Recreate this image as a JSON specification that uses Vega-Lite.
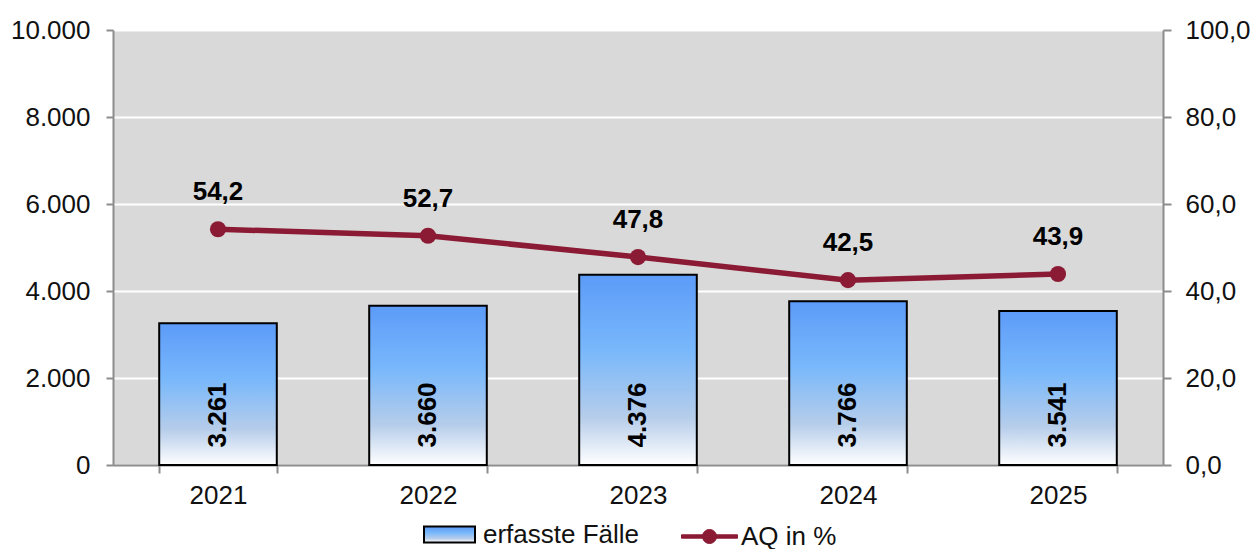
{
  "$schema": "https://vega.github.io/schema/vega-lite/v6.json",
  "autosize": {"type": "none"},
  "width": 1050,
  "height": 435,
  "padding": {"left": 113, "top": 30, "right": 92, "bottom": 84},
  "background": "white",
  "config": {
    "font": "Liberation Sans",
    "locale": {"number": {"decimal": ",", "thousands": ".", "grouping": [3], "currency": ["", " €"]}},
    "view": {"fill": "#D9D9D9", "stroke": null},
    "axis": {"labelFont": "Liberation Sans", "labelFontSize": 26, "labelColor": "#111111", "domainColor": "#8C8C8C", "domainWidth": 2, "tickColor": "#8C8C8C", "tickWidth": 2, "tickSize": 8, "title": null}
  },
  "data": {"values": [
    {"Jahr": "2021", "Faelle": 3261, "AQ": 54.2},
    {"Jahr": "2022", "Faelle": 3660, "AQ": 52.7},
    {"Jahr": "2023", "Faelle": 4376, "AQ": 47.8},
    {"Jahr": "2024", "Faelle": 3766, "AQ": 42.5},
    {"Jahr": "2025", "Faelle": 3541, "AQ": 43.9}
  ]},
  "encoding": {
    "x": {"field": "Jahr", "type": "nominal", "scale": {"paddingInner": 0.44, "paddingOuter": 0.22},
      "axis": {"labelAngle": 0, "tickBand": "extent", "labelPadding": 9, "grid": false, "tickSize": 8}}
  },
  "layer": [
    {
      "layer": [
        {
          "mark": {"type": "bar", "stroke": "#000000", "strokeWidth": 2,
            "fill": {"gradient": "linear", "x1": 0, "y1": 0, "x2": 0, "y2": 1,
              "stops": [{"offset": 0, "color": "#5C9BF8"}, {"offset": 0.4, "color": "#79B8FB"}, {"offset": 0.75, "color": "#B6CDEA"}, {"offset": 1, "color": "#FFFFFF"}]}},
          "encoding": {
            "y": {"field": "Faelle", "type": "quantitative", "scale": {"domain": [0, 10000]},
              "axis": {"orient": "left", "values": [0, 2000, 4000, 6000, 8000, 10000], "format": ",.0f", "grid": true, "gridColor": "#FFFFFF", "gridWidth": 2, "tickSize": 7, "labelPadding": 16}},
            "stroke": {"datum": "erfasste Fälle", "type": "nominal", "scale": {"range": ["#000000"]},
              "legend": {"title": null, "orient": "none", "legendX": 310, "legendY": 478, "direction": "horizontal",
                "symbolType": "M-1,-0.31H1V0.31H-1Z", "symbolSize": 2601, "symbolFillColor": "#9EC6F6", "symbolStrokeColor": "#000000", "symbolStrokeWidth": 2,
                "labelFontSize": 26, "labelColor": "#111111", "labelFont": "Liberation Sans", "labelOffset": 7}}
          }
        },
        {
          "mark": {"type": "text", "angle": 270, "align": "center", "baseline": "middle", "fontSize": 26, "fontWeight": "bold", "color": "#000000", "font": "Liberation Sans"},
          "encoding": {
            "y": {"datum": 1150, "type": "quantitative"},
            "text": {"field": "Faelle", "type": "quantitative", "format": ",.0f"}
          }
        }
      ]
    },
    {
      "layer": [
        {
          "mark": {"type": "line", "strokeWidth": 5.5, "point": {"filled": true, "size": 260}},
          "encoding": {
            "y": {"field": "AQ", "type": "quantitative", "scale": {"domain": [0, 100]},
              "axis": {"orient": "right", "values": [0, 20, 40, 60, 80, 100], "format": ".1f", "grid": false, "labelPadding": 14}},
            "color": {"datum": "AQ in %", "type": "nominal", "scale": {"range": ["#8B1A35"]},
              "legend": {"title": null, "orient": "none", "legendX": 568, "legendY": 478, "direction": "horizontal",
                "symbolType": "M-1,-0.06H1V0.06H-1Z M-0.25,0A0.25,0.25 0 1,1 0.25,0A0.25,0.25 0 1,1 -0.25,0Z", "symbolSize": 3136, "symbolFillColor": "#8B1A35", "symbolStrokeColor": "#8B1A35", "symbolStrokeWidth": 1,
                "labelFontSize": 26, "labelColor": "#111111", "labelFont": "Liberation Sans", "labelOffset": 3}}
          }
        },
        {
          "mark": {"type": "text", "align": "center", "baseline": "middle", "dy": -37, "fontSize": 26, "fontWeight": "bold", "color": "#000000", "font": "Liberation Sans"},
          "encoding": {
            "y": {"field": "AQ", "type": "quantitative"},
            "text": {"field": "AQ", "type": "quantitative", "format": ".1f"}
          }
        }
      ]
    }
  ],
  "resolve": {"scale": {"y": "independent"}}
}
